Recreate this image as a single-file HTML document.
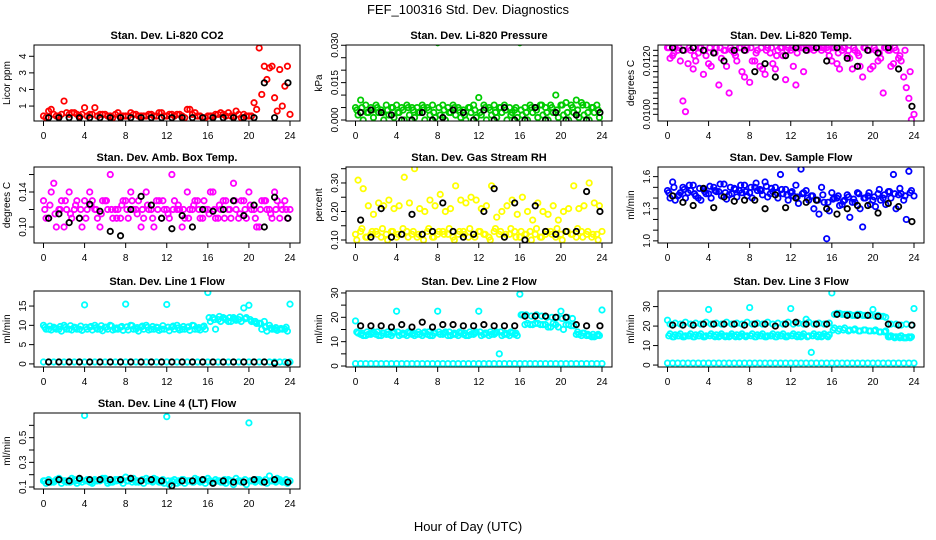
<!DOCTYPE html>
<html><head><meta charset="utf-8">
<style>
html,body{margin:0;padding:0;background:#fff;}
svg{display:block;font-family:"Liberation Sans",Arial,sans-serif;}
</style></head>
<body>
<svg id="chart" width="936" height="540" viewBox="0 0 936 540" xmlns="http://www.w3.org/2000/svg">
<text x="468" y="14" text-anchor="middle" font-size="13">FEF_100316  Std. Dev. Diagnostics</text>
<text x="468" y="531" text-anchor="middle" font-size="13">Hour of Day (UTC)</text>
</svg>
<script>
// shared x categories (hours)
const hoursA=[0,0.5,1,1.5,2,2.5,3,3.5,4,4.5,5,5.5,6,6.5,7,7.5,8,8.5,9,9.5,10,10.5,11,11.5,12,12.5,13,13.5,14,14.5,15,15.5,16,16.5,17,17.5,18,18.5,19,19.5,20,20.5,21,21.5,22,22.5,23,23.5,24];
const hoursB=[0.25,0.75,1.25,1.75,2.25,2.75,3.25,3.75,4.25,4.75,5.25,5.75,6.25,6.75,7.25,7.75,8.25,8.75,9.25,9.75,10.25,10.75,11.25,11.75,12.25,12.75,13.25,13.75,14.25,14.75,15.25,15.75,16.25,16.75,17.25,17.75,18.25,18.75,19.25,19.75,20.25,20.75,21.25,21.75,22.25,22.75,23.25,23.75];
const hoursC=[0.125,0.625,1.125,1.625,2.125,2.625,3.125,3.625,4.125,4.625,5.125,5.625,6.125,6.625,7.125,7.625,8.125,8.625,9.125,9.625,10.125,10.625,11.125,11.625,12.125,12.625,13.125,13.625,14.125,14.625,15.125,15.625,16.125,16.625,17.125,17.625,18.125,18.625,19.125,19.625,20.125,20.625,21.125,21.625,22.125,22.625,23.125,23.625];
const hoursK=[0.5,1.5,2.5,3.5,4.5,5.5,6.5,7.5,8.5,9.5,10.5,11.5,12.5,13.5,14.5,15.5,16.5,17.5,18.5,19.5,20.5,21.5,22.5,23.8];
const xTicks=[0,4,8,12,16,20,24];

// Panel 1: CO2
const co2A=[0.4,0.7,0.5,0.4,1.3,0.5,0.6,0.4,0.9,0.5,0.9,0.5,0.5,0.4,0.5,0.4,0.4,0.6,0.5,0.4,0.4,0.5,0.4,0.6,0.4,0.5,0.5,0.4,0.8,0.5,0.4,0.3,0.4,0.4,0.5,0.5,0.6,0.4,0.5,0.5,0.4,1.2,4.5,3.4,3.3,1.5,3.2,2.2,0.5];
const co2B=[0.3,0.8,0.4,0.5,0.6,0.6,0.5,0.5,0.4,0.5,0.4,0.5,0.4,0.3,0.6,0.4,0.4,0.5,0.4,0.4,0.5,0.4,0.6,0.4,0.5,0.4,0.5,0.3,0.8,0.6,0.4,0.3,0.4,0.5,0.6,0.4,0.4,0.7,0.3,0.4,0.4,0.8,1.7,2.6,3.4,0.7,1.0,3.4];
const co2K=[0.3,0.3,0.3,0.3,0.3,0.3,0.3,0.3,0.3,0.3,0.3,0.3,0.3,0.3,0.3,0.3,0.3,0.3,0.3,0.3,0.3,2.4,0.3,2.4];
// Panel 2: Pressure
const presA=[0.005,0.008,0.006,0.005,0.006,0.004,0.006,0.005,0.006,0.005,0.006,0.005,0.005,0.006,0.005,0.006,0.031,0.006,0.005,0.006,0.005,0.004,0.005,0.006,0.009,0.006,0.005,0.006,0.005,0.006,0.005,0.004,0.031,0.005,0.006,0.005,0.006,0.005,0.006,0.010,0.006,0.007,0.006,0.008,0.007,0.006,0.005,0.006,0.032];
const presB=[0.002,0.000,0.003,0.001,0.003,0.000,0.002,0.001,0.003,0.000,0.002,0.001,0.003,0.000,0.002,0.001,0.002,0.000,0.003,0.002,0.001,0.000,0.003,0.001,0.002,0.000,0.002,0.001,0.003,0.000,0.003,0.001,0.002,0.000,0.003,0.001,0.002,0.000,0.003,0.001,0.002,0.000,0.003,0.001,0.002,0.000,0.003,0.001];
const presC=[0.004,0.005,0.003,0.004,0.005,0.003,0.004,0.005,0.003,0.004,0.005,0.004,0.003,0.005,0.004,0.003,0.005,0.004,0.003,0.005,0.004,0.002,0.005,0.004,0.003,0.005,0.004,0.003,0.005,0.004,0.002,0.005,0.004,0.003,0.005,0.004,0.006,0.003,0.005,0.004,0.006,0.003,0.005,0.004,0.006,0.003,0.005,0.004];
const presK=[0.003,0.004,0.003,0.002,0.000,0.000,0.003,0.000,0.001,0.004,0.003,0.000,0.004,0.000,0.005,0.000,0.000,0.005,0.000,0.003,0.000,0.002,0.000,0.003];
// Panel 3: Li-820 temp
const tmpA=[0.0125,0.0122,0.0124,0.0105,0.0119,0.0117,0.0123,0.0115,0.0119,0.0123,0.0111,0.0124,0.0108,0.0123,0.0125,0.0114,0.0112,0.0120,0.0118,0.0115,0.0123,0.0117,0.0125,0.0113,0.0124,0.0111,0.0125,0.0125,0.0125,0.0125,0.0124,0.0125,0.0120,0.0119,0.0124,0.0122,0.0117,0.0123,0.0114,0.0124,0.0118,0.0120,0.0108,0.0124,0.0119,0.0121,0.0114,0.0106,0.0100];
const tmpB=[0.0121,0.0125,0.0120,0.0101,0.0124,0.0120,0.0125,0.0122,0.0118,0.0125,0.0121,0.0118,0.0124,0.0120,0.0116,0.0125,0.0120,0.0124,0.0117,0.0125,0.0119,0.0124,0.0122,0.0125,0.0118,0.0125,0.0116,0.0125,0.0124,0.0125,0.0125,0.0122,0.0125,0.0117,0.0125,0.0121,0.0124,0.0118,0.0125,0.0117,0.0124,0.0121,0.0125,0.0118,0.0124,0.0120,0.0110,0.0098];
const tmpC=[0.0125,0.0123,0.0125,0.0124,0.0125,0.0122,0.0125,0.0124,0.0125,0.0123,0.0125,0.0124,0.0125,0.0122,0.0125,0.0124,0.0125,0.0123,0.0125,0.0124,0.0125,0.0122,0.0125,0.0124,0.0125,0.0123,0.0125,0.0124,0.0125,0.0125,0.0125,0.0124,0.0125,0.0123,0.0125,0.0124,0.0125,0.0122,0.0125,0.0124,0.0125,0.0123,0.0125,0.0124,0.0125,0.0122,0.0124,0.0116];
const tmpK=[0.0125,0.0124,0.0125,0.0124,0.0123,0.0120,0.0124,0.0124,0.0116,0.0119,0.0114,0.0122,0.0125,0.0124,0.0125,0.0120,0.0125,0.0121,0.0118,0.0124,0.0123,0.0125,0.0117,0.0103];
// Panel 4: Amb box temp
const ambA=[0.13,0.11,0.15,0.12,0.10,0.14,0.12,0.11,0.13,0.14,0.12,0.10,0.13,0.16,0.12,0.11,0.13,0.14,0.12,0.10,0.14,0.12,0.13,0.11,0.12,0.16,0.12,0.10,0.14,0.12,0.13,0.11,0.12,0.14,0.11,0.13,0.12,0.15,0.11,0.13,0.14,0.12,0.10,0.13,0.12,0.14,0.11,0.13,0.12];
const ambB=[0.11,0.14,0.10,0.13,0.12,0.11,0.13,0.10,0.12,0.13,0.11,0.13,0.12,0.11,0.12,0.13,0.11,0.12,0.13,0.11,0.12,0.10,0.13,0.12,0.11,0.13,0.12,0.11,0.12,0.13,0.11,0.12,0.14,0.11,0.12,0.13,0.11,0.12,0.13,0.11,0.12,0.10,0.13,0.12,0.11,0.13,0.12,0.11];
const ambC=[0.12,0.125,0.115,0.12,0.13,0.115,0.125,0.12,0.11,0.125,0.12,0.115,0.13,0.12,0.11,0.125,0.12,0.13,0.115,0.12,0.125,0.11,0.12,0.13,0.115,0.12,0.125,0.12,0.11,0.125,0.12,0.13,0.115,0.12,0.125,0.11,0.12,0.13,0.115,0.12,0.125,0.11,0.12,0.13,0.115,0.12,0.125,0.12];
const ambK=[0.11,0.115,0.105,0.11,0.126,0.118,0.095,0.09,0.12,0.135,0.125,0.11,0.098,0.113,0.10,0.12,0.118,0.12,0.13,0.113,0.125,0.10,0.134,0.11];
// Panel 5: Gas stream RH
const rhA=[0.12,0.13,0.11,0.12,0.13,0.11,0.12,0.13,0.11,0.12,0.13,0.12,0.11,0.12,0.13,0.11,0.12,0.13,0.12,0.11,0.12,0.13,0.11,0.12,0.13,0.12,0.11,0.13,0.12,0.11,0.12,0.13,0.11,0.12,0.13,0.12,0.11,0.12,0.13,0.11,0.12,0.13,0.12,0.11,0.13,0.12,0.11,0.12,0.13];
const rhB=[0.31,0.28,0.22,0.19,0.23,0.22,0.24,0.21,0.22,0.32,0.23,0.35,0.21,0.20,0.24,0.22,0.26,0.20,0.21,0.29,0.24,0.23,0.25,0.24,0.21,0.22,0.29,0.18,0.20,0.22,0.24,0.19,0.25,0.20,0.17,0.23,0.20,0.19,0.22,0.17,0.20,0.21,0.29,0.21,0.22,0.30,0.23,0.22];
const rhC=[0.10,0.14,0.11,0.13,0.12,0.14,0.10,0.13,0.12,0.14,0.11,0.13,0.12,0.10,0.14,0.11,0.13,0.12,0.14,0.10,0.13,0.12,0.14,0.11,0.13,0.12,0.10,0.14,0.13,0.12,0.14,0.11,0.13,0.12,0.10,0.14,0.11,0.13,0.12,0.14,0.10,0.13,0.12,0.14,0.11,0.13,0.12,0.10];
const rhK=[0.17,0.11,0.21,0.11,0.12,0.19,0.12,0.13,0.23,0.13,0.11,0.12,0.20,0.28,0.11,0.23,0.10,0.22,0.13,0.12,0.13,0.13,0.27,0.20];
// Panel 6: Sample flow
const sfA=[1.47,1.55,1.42,1.50,1.45,1.52,1.40,1.48,1.44,1.50,1.46,1.53,1.43,1.49,1.47,1.52,1.45,1.50,1.48,1.55,1.44,1.50,1.62,1.48,1.45,1.52,1.67,1.47,1.42,1.38,1.50,1.02,1.45,1.40,1.34,1.43,1.36,1.45,1.13,1.42,1.38,1.44,1.40,1.46,1.62,1.43,1.38,1.65,1.42];
const sfB=[1.40,1.38,1.45,1.40,1.47,1.42,1.38,1.44,1.40,1.46,1.42,1.39,1.44,1.41,1.45,1.42,1.40,1.47,1.43,1.41,1.46,1.40,1.44,1.38,1.42,1.35,1.45,1.38,1.30,1.25,1.36,1.28,1.40,1.33,1.38,1.22,1.36,1.30,1.40,1.34,1.32,1.38,1.34,1.40,1.30,1.44,1.20,1.47];
const sfC=[1.45,1.50,1.43,1.48,1.52,1.44,1.49,1.46,1.51,1.47,1.53,1.45,1.50,1.48,1.52,1.46,1.50,1.54,1.47,1.51,1.49,1.45,1.48,1.43,1.46,1.41,1.44,1.40,1.42,1.38,1.43,1.36,1.39,1.42,1.37,1.41,1.39,1.44,1.40,1.45,1.41,1.48,1.43,1.46,1.44,1.49,1.42,1.45];
const sfK=[1.42,1.36,1.33,1.49,1.31,1.41,1.37,1.38,1.38,1.30,1.43,1.31,1.40,1.36,1.38,1.30,1.25,1.30,1.33,1.33,1.26,1.35,1.32,1.18];
// Panel 7: Line 1 flow
const l1A=[10,9,9.5,9,10,9,9.5,9,15.3,9.5,10,9,9.5,10,9,9.5,15.5,10,9,9.5,10,9,9.5,9,15.4,9.5,10,9,9.5,10,9,9.5,18.5,12,11.5,12,11,12,11.5,14.5,15.2,11,10.5,11,10,9,9,9,15.5];
const l1B=[9,8.8,9,8.5,9,8.8,9,8.7,9,8.8,9,8.6,9,8.8,9,8.7,8.8,9,8.5,9,8.8,9,8.7,9,8.6,9,8.8,9,8.7,9,8.8,9,11,9,11,11.5,11,11.3,11,12,11,10.5,9,8.5,9,8.7,9,8.5];
const l1C=[9.5,9.8,9.3,9.7,9.5,9.9,9.4,9.8,9.5,9.7,9.4,9.9,9.5,9.8,9.3,9.7,9.6,9.9,9.4,9.8,9.5,9.7,9.4,9.9,9.5,9.8,9.3,9.7,9.6,9.9,9.4,9.8,12,11.5,12.3,11.8,12,11.6,12.2,11.7,11.5,11,10.5,9.5,9.3,9.4,9.2,9.5];
const l1Z=[0.5,0.5,0.5,0.5,0.5,0.5,0.5,0.5,0.5,0.5,0.5,0.5,0.5,0.5,0.5,0.5,0.5,0.5,0.5,0.5,0.5,0.5,0.5,0.5,0.5,0.5,0.5,0.5,0.5,0.5,0.5,0.5,0.5,0.5,0.5,0.5,0.5,0.5,0.5,0.5,0.5,0.5,0.5,0.5,0.5,0.5,0.5,0.5,0.5];
const l1K=[0.5,0.5,0.5,0.5,0.5,0.5,0.5,0.5,0.5,0.5,0.5,0.5,0.5,0.5,0.5,0.5,0.5,0.5,0.5,0.5,0.5,0.5,0.2,0.3];
// Panel 8: Line 2 flow
const l2A=[18.5,13,12.5,13,13,12.5,13,12.5,22.5,13,12.5,13,13,12.5,13,12.5,22.5,13,12.5,13,12.5,13,12.5,13,22.5,13,12.5,13,5,13,12.5,13,29.5,17,17,17.5,17,17,16,17,22.5,17,16.5,13,12.5,12.5,12,12.5,23];
const l2B=[13.5,12.5,13,14,12.5,13.5,13,14,12.5,13,13.5,12.5,13,14,12.5,13.5,13,14,12.5,13,13.5,12.5,13,14,12.5,13.5,13,14,12.5,13,13.5,12.5,21,17.5,17,17.5,17,16,17.5,16,15,17,16.5,13,13.5,12.5,12,12.5];
const l2C=[14,13.5,14,13.5,14,13.5,14,13.5,14,13.5,14,13.5,14,13.5,14,13.5,14,13.5,14,13.5,14,13.5,14,13.5,14,13.5,14,13.5,14,13.5,14,13.5,21,21,20.5,21,20.5,20,20,20,19.5,20,19.5,14,13.5,13,13,13];
const l2Z=[1,1,1,1,1,1,1,1,1,1,1,1,1,1,1,1,1,1,1,1,1,1,1,1,1,1,1,1,1,1,1,1,1,1,1,1,1,1,1,1,1,1,1,1,1,1,1,1,1];
const l2K=[16.5,16.5,16.5,16,17,16,18,16,17,17,16.5,16.5,17,16.5,16.5,16.5,20.5,20.5,20.5,20,20,17,16.5,16.5];
// Panel 9: Line 3 flow
const l3A=[23,14.5,15,14.5,15,14.5,15,14.5,28.5,15,14.5,15,14.5,15,14.5,15,29.5,14.5,15,14.5,15,14.5,15,14.5,29,15,14.5,23.5,6.5,15,14.5,15,37,26.5,26,26,25.5,26,25.5,25.5,28.5,25.5,25,14.5,14.5,14.5,14,14.5,29];
const l3B=[16,15.5,16,15,16,15.5,16,15,16,15.5,16,15,16,15.5,16,15,16,15.5,16,15,16,15.5,16,15,16,15.5,16,15,16,15.5,16,15.5,19,18.5,19,18,18.5,17.5,18,17.5,18,17,17.5,15,14.5,15,14,14.5];
const l3C=[21,21.5,21,22,21,21.5,21,22,21,21.5,21,22,21,21.5,21,22,21,21.5,21,22,21,21.5,21,22,21,21.5,21,22,21,21.5,21,21.5,26,26.5,26,26,25.5,26,25.5,25.5,25,25,24.5,21,21,20.5,21,20.5];
const l3D=[15,14.5,15,14.5,15,14.5,15,14.5,15,14.5,15,14.5,15,14.5,15,14.5,15,14.5,15,14.5,15,14.5,15,14.5,15,14.5,15,14.5,15,14.5,15,14.5,18,17.5,18,17.5,18,17.5,18,17.5,17.5,17,17,14.5,14,14,14,14];
const l3Z=[1,1,1,1,1,1,1,1,1,1,1,1,1,1,1,1,1,1,1,1,1,1,1,1,1,1,1,1,1,1,1,1,1,1,1,1,1,1,1,1,1,1,1,1,1,1,1,1,1];
const l3K=[20.5,20.5,20.5,21,21,21,21,20.5,21,21,20,21,22,21,21,21,26,25.5,25.5,25.5,25,21,20.5,20.5];
// Panel 10: Line 4 flow
const l4A=[0.15,0.16,0.14,0.17,0.15,0.14,0.16,0.15,0.68,0.14,0.16,0.15,0.17,0.14,0.16,0.15,0.18,0.16,0.14,0.15,0.17,0.15,0.16,0.14,0.67,0.15,0.13,0.16,0.15,0.14,0.16,0.15,0.17,0.13,0.15,0.14,0.16,0.12,0.15,0.14,0.62,0.15,0.16,0.14,0.19,0.15,0.16,0.14,0.15];
const l4B=[0.13,0.14,0.16,0.13,0.14,0.17,0.13,0.14,0.16,0.13,0.15,0.17,0.13,0.14,0.16,0.13,0.15,0.17,0.14,0.13,0.15,0.17,0.14,0.13,0.12,0.16,0.14,0.13,0.15,0.17,0.14,0.13,0.15,0.16,0.14,0.13,0.15,0.17,0.14,0.12,0.15,0.16,0.14,0.13,0.15,0.17,0.14,0.13];
const l4C=[0.15,0.14,0.15,0.16,0.15,0.14,0.15,0.16,0.15,0.14,0.15,0.16,0.15,0.14,0.15,0.16,0.15,0.14,0.15,0.16,0.15,0.14,0.15,0.16,0.15,0.14,0.15,0.16,0.15,0.14,0.15,0.16,0.15,0.14,0.15,0.16,0.15,0.14,0.15,0.16,0.15,0.14,0.15,0.16,0.15,0.14,0.15,0.16];
const l4K=[0.14,0.16,0.15,0.17,0.16,0.16,0.16,0.16,0.17,0.15,0.16,0.15,0.11,0.15,0.15,0.16,0.13,0.15,0.14,0.14,0.16,0.14,0.16,0.14];

const NS="http://www.w3.org/2000/svg";
const svg=document.getElementById('chart');
function mk(tag,attrs,parent){const e=document.createElementNS(NS,tag);for(const k in attrs)e.setAttribute(k,attrs[k]);(parent||svg).appendChild(e);return e;}

const panels=[
 {name:'co2',title:'Stan. Dev. Li-820 CO2',ylab:'Licor ppm',col:0,row:0,ymin:0.1,ymax:4.68,yt:[1,2,3,4],yl:['1','2','3','4'],
  series:[[hoursA,co2A,'#ff0000'],[hoursB,co2B,'#ff0000'],[hoursK,co2K,'#000']]},
 {name:'pressure',title:'Stan. Dev. Li-820 Pressure',ylab:'kPa',col:1,row:0,ymin:-0.0004,ymax:0.0301,yt:[0,0.005,0.01,0.015,0.02,0.025,0.03],yl:['0.000','','','0.015','','','0.030'],
  series:[[hoursA,presA,'#00cc00'],[hoursB,presB,'#00cc00'],[hoursC,presC,'#00cc00'],[hoursK,presK,'#000']]},
 {name:'li820-temp',title:'Stan. Dev. Li-820 Temp.',ylab:'degrees C',col:2,row:0,ymin:0.00975,ymax:0.0126,yt:[0.0100,0.0102,0.0104,0.0106,0.0108,0.0110,0.0112,0.0114,0.0116,0.0118,0.0120,0.0122,0.0124],yl:['0.0100','','','','','','','','','','0.0120','',''],
  series:[[hoursA,tmpA,'#ff00ff'],[hoursB,tmpB,'#ff00ff'],[hoursC,tmpC,'#ff00ff'],[hoursK,tmpK,'#000']]},
 {name:'amb-box-temp',title:'Stan. Dev. Amb. Box Temp.',ylab:'degrees C',col:0,row:1,ymin:0.0817,ymax:0.1686,yt:[0.10,0.12,0.14,0.16],yl:['0.10','','0.14',''],
  series:[[hoursA,ambA,'#ff00ff'],[hoursB,ambB,'#ff00ff'],[hoursC,ambC,'#ff00ff'],[hoursK,ambK,'#000']]},
 {name:'gas-stream-rh',title:'Stan. Dev. Gas Stream RH',ylab:'percent',col:1,row:1,ymin:0.0895,ymax:0.356,yt:[0.10,0.15,0.20,0.25,0.30,0.35],yl:['0.10','','0.20','','0.30',''],
  series:[[hoursA,rhA,'#ffff00'],[hoursB,rhB,'#ffff00'],[hoursC,rhC,'#ffff00'],[hoursK,rhK,'#000']]},
 {name:'sample-flow',title:'Stan. Dev. Sample Flow',ylab:'ml/min',col:2,row:1,ymin:0.98,ymax:1.69,yt:[1.0,1.1,1.2,1.3,1.4,1.5,1.6],yl:['1.0','','','1.3','','','1.6'],
  series:[[hoursA,sfA,'#0000ff'],[hoursB,sfB,'#0000ff'],[hoursC,sfC,'#0000ff'],[hoursK,sfK,'#000']]},
 {name:'line1-flow',title:'Stan. Dev. Line 1 Flow',ylab:'ml/min',col:0,row:2,ymin:-0.8,ymax:18.9,yt:[0,5,10,15],yl:['0','5','10','15'],
  series:[[hoursA,l1A,'#00ffff'],[hoursB,l1B,'#00ffff'],[hoursC,l1C,'#00ffff'],[hoursA,l1Z,'#00ffff'],[hoursK,l1K,'#000']]},
 {name:'line2-flow',title:'Stan. Dev. Line 2 Flow',ylab:'ml/min',col:1,row:2,ymin:-0.4,ymax:30.8,yt:[0,5,10,15,20,25,30],yl:['0','','10','','20','','30'],
  series:[[hoursA,l2A,'#00ffff'],[hoursB,l2B,'#00ffff'],[hoursC,l2C,'#00ffff'],[hoursA,l2Z,'#00ffff'],[hoursK,l2K,'#000']]},
 {name:'line3-flow',title:'Stan. Dev. Line 3 Flow',ylab:'ml/min',col:2,row:2,ymin:-1,ymax:38,yt:[0,10,20,30],yl:['0','10','20','30'],
  series:[[hoursA,l3A,'#00ffff'],[hoursB,l3B,'#00ffff'],[hoursB,l3C,'#00ffff'],[hoursC,l3D,'#00ffff'],[hoursA,l3Z,'#00ffff'],[hoursK,l3K,'#000']]},
 {name:'line4-flow',title:'Stan. Dev. Line 4 (LT) Flow',ylab:'ml/min',col:0,row:3,ymin:0.084,ymax:0.7,yt:[0.1,0.2,0.3,0.4,0.5,0.6],yl:['0.1','','0.3','','0.5',''],
  series:[[hoursA,l4A,'#00ffff'],[hoursB,l4B,'#00ffff'],[hoursC,l4C,'#00ffff'],[hoursK,l4K,'#000']]}
];
const colX=[34,346,658], rowY=[45,167,291,413], W=266, H=76;

panels.forEach(p=>{
  const x0=colX[p.col], y0=rowY[p.row];
  const g=mk('g',{});
  
  
  const xs=h=>x0+9.5+h/24*246.5;
  const ys=v=>y0+H-(v-p.ymin)/(p.ymax-p.ymin)*H;
  const clipId='clip-'+p.name;
  const cp=mk('clipPath',{id:clipId},g);
  mk('rect',{x:x0,y:y0,width:W,height:H},cp);
  const t=mk('text',{x:x0+W/2,y:y0-6,'text-anchor':'middle','font-size':'11','font-weight':'bold'},g);
  t.textContent=p.title;
  
  
  const yl=mk('text',{transform:`translate(${x0-24},${y0+H/2}) rotate(-90)`,'text-anchor':'middle','font-size':'10'},g);
  yl.textContent=p.ylab;
  
  
  const xa=mk('g',{},g);
  
  
  mk('line',{x1:xs(0),x2:xs(24),y1:y0+H,y2:y0+H,stroke:'#000','stroke-width':1},xa);
  xTicks.forEach(v=>{
    mk('line',{x1:xs(v),x2:xs(v),y1:y0+H,y2:y0+H+5,stroke:'#000','stroke-width':1},xa);
    const tl=mk('text',{x:xs(v),y:y0+H+18,'text-anchor':'middle','font-size':'10'},xa);
    tl.textContent=String(v);
    
    
  });
  const ya=mk('g',{},g);
  
  
  mk('line',{x1:x0,x2:x0,y1:ys(p.yt[0]),y2:ys(p.yt[p.yt.length-1]),stroke:'#000','stroke-width':1},ya);
  p.yt.forEach((v,i)=>{
    mk('line',{x1:x0-5,x2:x0,y1:ys(v),y2:ys(v),stroke:'#000','stroke-width':1},ya);
    if(p.yl[i]){
      const tl=mk('text',{transform:`translate(${x0-8},${ys(v)}) rotate(-90)`,'text-anchor':'middle','font-size':'10'},ya);
      tl.textContent=p.yl[i];
      
      
    }
  });
  const pts=mk('g',{'clip-path':`url(#${clipId})`},g);
  
  
  p.series.forEach(s=>{
    const [hx,vals,col]=s;
    vals.forEach((v,i)=>{
      const c=mk('circle',{cx:xs(hx[i]),cy:ys(v),r:2.7,fill:'none',stroke:col,'stroke-width':1.8},pts);
      
      
    });
  });
  const box=mk('rect',{x:x0,y:y0,width:W,height:H,fill:'none',stroke:'#000','stroke-width':1},g);
  
  
});
</script>
</body></html>
